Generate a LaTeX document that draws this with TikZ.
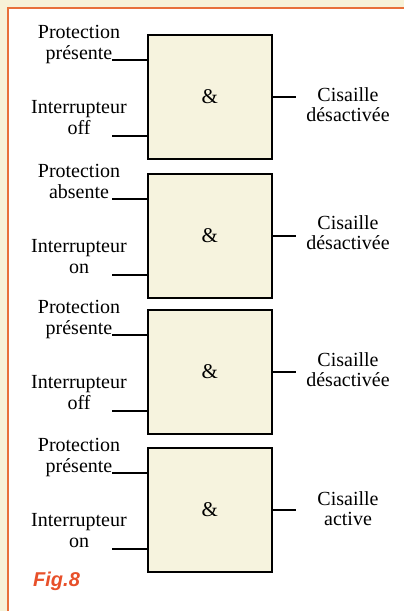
\documentclass[tikz,border=0pt]{standalone}
\usepackage{fontspec}
\setmainfont{Liberation Serif}
\newfontfamily\figfont{Liberation Sans}
\definecolor{outerbg}{HTML}{F7F2D8}
\definecolor{frameor}{HTML}{E8703A}
\definecolor{boxfill}{HTML}{F6F3DE}
\definecolor{figred}{HTML}{E8502A}
\begin{document}
\begin{tikzpicture}[x=1pt,y=-1pt,
  lbl/.style={inner sep=0pt,anchor=base,font=\fontsize{20}{20}\selectfont},
  gate/.style={draw=black,line width=1.8pt,fill=boxfill,minimum width=124pt,minimum height=124pt,inner sep=0pt,anchor=north west,font=\fontsize{21}{21}\selectfont},
  wire/.style={black,line width=1.1pt}]
\useasboundingbox (0,0) rectangle (404,611);
\fill[outerbg] (0,0) rectangle (404,611);
\fill[white] (8,8) rectangle (404,611);
\draw[frameor,line width=2.5pt] (8,611) -- (8,8) -- (404,8);
\foreach \i/\T/\pw/\sw/\ow/\cy in {1/34/présente/off/désactivée/67,2/173/absente/on/désactivée/56,3/309/présente/off/désactivée/57,4/447/présente/on/active/58}{
  \node[gate] (g\i) at (147,\T) {\&};
  \node[lbl] (pa\i) at (79,\T+4) {Protection};
  \node[lbl] (pb\i) at (79,\T+25) {\pw};
  \node[lbl] (ia\i) at (79,\T+79) {Interrupteur};
  \node[lbl] (ib\i) at (79,\T+100) {\sw};
  \node[lbl] (ca\i) at (348,\T+\cy) {Cisaille};
  \node[lbl] (cb\i) at (348,\T+\cy+20) {\ow};
  \coordinate (inA\i) at (112,\T+26);
  \coordinate (inB\i) at (112,\T+102);
  \coordinate (out\i) at (296,\T+63);
  \draw[wire] (inA\i) -- (inA\i -| g\i.west);
  \draw[wire] (inB\i) -- (inB\i -| g\i.west);
  \draw[wire] (out\i -| g\i.east) -- (out\i);
}
\node[inner sep=0pt,anchor=base west,text=figred,font=\figfont\bfseries\itshape\fontsize{20}{20}\selectfont] (fig) at (33,586) {Fig.8};
\end{tikzpicture}
\end{document}
